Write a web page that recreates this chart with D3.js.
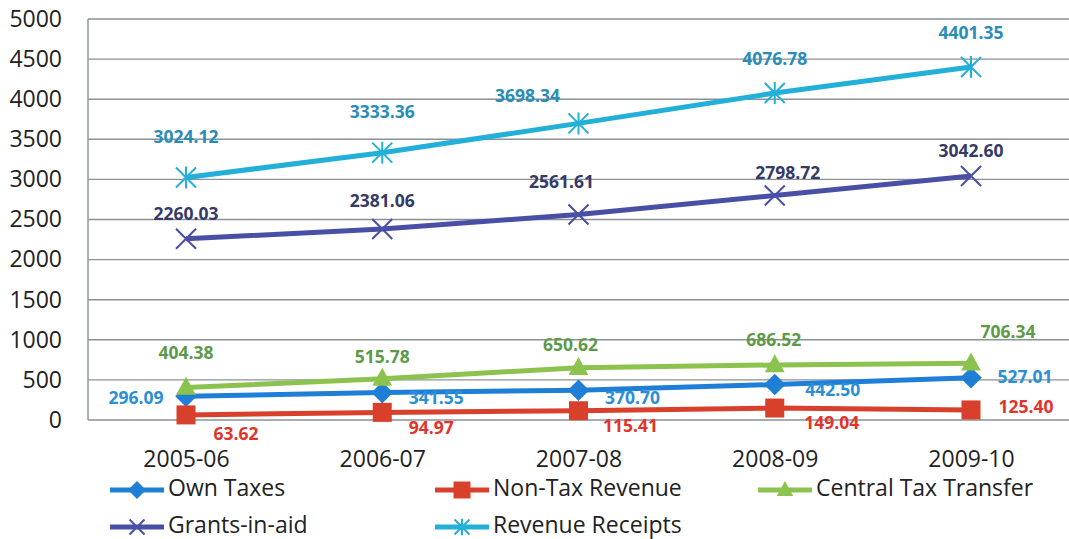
<!DOCTYPE html>
<html>
<head>
<meta charset="utf-8">
<script src="https://cdn.jsdelivr.net/npm/d3@7"></script>
<style>
  body { margin: 0; background: #fff; }
  svg { display: block; font-family: "Open Sans", "Liberation Sans", sans-serif; }
</style>
</head>
<body>
<svg id="chart" width="1069" height="539"></svg>
<script>
// Revenue components by year (Rs. crore)
const years = ["2005-06", "2006-07", "2007-08", "2008-09", "2009-10"];
const ownTaxes = [296.09, 341.55, 370.70, 442.50, 527.01];
const nonTaxRevenue = [63.62, 94.97, 115.41, 149.04, 125.40];
const centralTaxTransfer = [404.38, 515.78, 650.62, 686.52, 706.34];
const grantsInAid = [2260.03, 2381.06, 2561.61, 2798.72, 3042.60];
const revenueReceipts = [3024.12, 3333.36, 3698.34, 4076.78, 4401.35];
const yTicks = [0, 500, 1000, 1500, 2000, 2500, 3000, 3500, 4000, 4500, 5000];

const series = [
  { name: "Own Taxes", values: ownTaxes, color: "#1f7fd6", label: "#2b8fd6", marker: "diamond" },
  { name: "Non-Tax Revenue", values: nonTaxRevenue, color: "#d8402c", label: "#e2342a", marker: "square" },
  { name: "Central Tax Transfer", values: centralTaxTransfer, color: "#8cc24e", label: "#5d9a48", marker: "triangle" },
  { name: "Grants-in-aid", values: grantsInAid, color: "#4a4fa6", label: "#353a66", marker: "cross" },
  { name: "Revenue Receipts", values: revenueReceipts, color: "#22b0d8", label: "#2a8db8", marker: "star" }
];

const svg = d3.select("#chart");
const margin = { left: 88, top: 19, bottom: 420 };
const x = d3.scalePoint().domain(years).range([186, 971]);
const y = d3.scaleLinear().domain([0, 5000]).range([margin.bottom, margin.top]);

// Horizontal gridlines
svg.append("g").selectAll("line").data(yTicks).join("line")
  .attr("x1", margin.left).attr("x2", 1069)
  .attr("y1", d => y(d)).attr("y2", d => y(d))
  .attr("stroke", "#8a9196").attr("stroke-width", 1.4);

// Vertical axis line
svg.append("line")
  .attr("x1", margin.left).attr("x2", margin.left)
  .attr("y1", y(5000)).attr("y2", y(0))
  .attr("stroke", "#8a9196").attr("stroke-width", 1.4);

// Y axis tick labels
const yAxis = d3.axisLeft(y).tickValues(yTicks).tickFormat(d3.format("d")).tickSize(0).tickPadding(0);
const yg = svg.append("g").attr("transform", `translate(62,0)`).call(yAxis);
yg.select(".domain").remove();
yg.selectAll("text").attr("font-size", 23).attr("fill", "#222").attr("font-family", "Open Sans, sans-serif");

// X axis labels
const xAxis = d3.axisBottom(x).tickSize(0).tickPadding(0);
const xg = svg.append("g").attr("transform", `translate(0,451)`).call(xAxis);
xg.select(".domain").remove();
xg.selectAll("text").attr("font-size", 23).attr("fill", "#222").attr("font-family", "Open Sans, sans-serif");

// Marker drawing
function drawMarker(g, type, color, size) {
  const s = size;
  if (type === "diamond") {
    g.append("path").attr("d", `M0,${-s * 0.6}L${s * 0.6},0L0,${s * 0.6}L${-s * 0.6},0Z`).attr("fill", color);
  } else if (type === "square") {
    g.append("rect").attr("x", -s / 2).attr("y", -s / 2).attr("width", s).attr("height", s).attr("fill", color);
  } else if (type === "triangle") {
    g.append("path").attr("d", `M0,${-s * 0.6}L${s * 0.55},${s * 0.4}L${-s * 0.55},${s * 0.4}Z`).attr("fill", color);
  } else if (type === "cross") {
    const r = s * 0.5;
    g.append("path").attr("d", `M${-r},${-r}L${r},${r}M${-r},${r}L${r},${-r}`)
      .attr("stroke", color).attr("stroke-width", 2);
  } else if (type === "star") {
    const r = s * 0.5;
    g.append("path").attr("d", `M${-r},${-r}L${r},${r}M${-r},${r}L${r},${-r}M0,${-r * 1.1}L0,${r * 1.1}`)
      .attr("stroke", color).attr("stroke-width", 2);
  }
}

const line = d3.line().x((d, i) => x(years[i])).y(d => y(d));

series.forEach(s => {
  svg.append("path").datum(s.values)
    .attr("d", line).attr("fill", "none")
    .attr("stroke", s.color).attr("stroke-width", 5).attr("stroke-linejoin", "round");
  s.values.forEach((v, i) => {
    const g = svg.append("g").attr("transform", `translate(${x(years[i])},${y(v)})`);
    drawMarker(g, s.marker, s.color, s.marker === "square" ? 19 : (s.marker === "cross" || s.marker === "star") ? 20 : 18);
  });
});

// Data label offsets from each point
const labelOffsets = {
  "Own Taxes": [[-50, 3], [54, 7], [54, 9], [58, 7], [54, 1]],
  "Non-Tax Revenue": [[50, 20], [49, 17], [52, 17], [57, 16], [55, -2]],
  "Central Tax Transfer": [[0, -33], [0, -20], [-8, -22], [-1, -24], [37, -30]],
  "Grants-in-aid": [[0, -23], [0, -27], [-17, -31], [13, -21], [0, -24]],
  "Revenue Receipts": [[0, -39], [0, -39], [-51, -26], [0, -33], [0, -33]]
};

series.forEach(s => {
  svg.append("g").selectAll("text").data(s.values).join("text")
    .attr("x", (d, i) => x(years[i]) + labelOffsets[s.name][i][0])
    .attr("y", (d, i) => y(d) + labelOffsets[s.name][i][1])
    .attr("text-anchor", "middle").attr("dominant-baseline", "middle")
    .attr("font-size", 17.5).attr("font-weight", "bold")
    .attr("fill", s.label)
    .text(d => d.toFixed(2));
});

// Legend
const legendItems = [
  { s: series[0], x: 110, y: 490 },
  { s: series[1], x: 435, y: 490 },
  { s: series[2], x: 758, y: 490 },
  { s: series[3], x: 110, y: 527 },
  { s: series[4], x: 435, y: 527 }
];
legendItems.forEach(it => {
  const g = svg.append("g").attr("transform", `translate(${it.x},${it.y})`);
  g.append("line").attr("x1", 0).attr("x2", 54).attr("y1", 0).attr("y2", 0)
    .attr("stroke", it.s.color).attr("stroke-width", 5);
  const m = g.append("g").attr("transform", "translate(27,0)");
  drawMarker(m, it.s.marker, it.s.color, it.s.marker === "square" ? 17 : 15);
  g.append("text").attr("x", 58).attr("y", 0).attr("dominant-baseline", "middle")
    .attr("font-size", 23).attr("fill", "#222").text(it.s.name);
});
</script>
</body>
</html>
